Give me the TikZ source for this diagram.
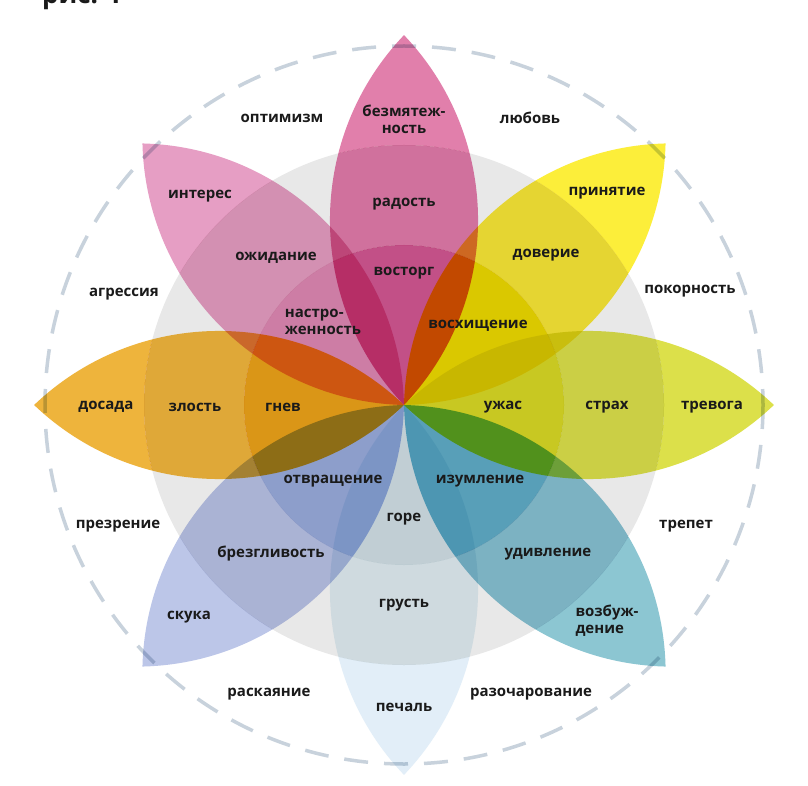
\documentclass[tikz,border=0pt]{standalone}
\usepackage{fontspec}
\setmainfont{Open Sans}
\definecolor{greyA}{HTML}{E8E8E8}
\definecolor{greyB}{HTML}{DADADA}
\definecolor{dashc}{HTML}{C8D2DC}
\definecolor{txt}{HTML}{1A1A1A}
% petal colours: outer / middle / inner
\definecolor{pAo}{HTML}{E17FAB}\definecolor{pAm}{HTML}{E57DAD}\definecolor{pAi}{HTML}{E35E9E}
\definecolor{pBo}{HTML}{FCEE3A}\definecolor{pBm}{HTML}{FCEB38}\definecolor{pBi}{HTML}{FFEA00}
\definecolor{pCo}{HTML}{DCE04A}\definecolor{pCm}{HTML}{E0E44C}\definecolor{pCi}{HTML}{EAEA28}
\definecolor{pDo}{HTML}{8CC6D2}\definecolor{pDm}{HTML}{89C4D6}\definecolor{pDi}{HTML}{68BAD8}
\definecolor{pEo}{HTML}{E2EEF8}\definecolor{pEm}{HTML}{E4F0F6}\definecolor{pEi}{HTML}{E2F2F8}
\definecolor{pFo}{HTML}{BCC6E8}\definecolor{pFm}{HTML}{BBC5EA}\definecolor{pFi}{HTML}{A5B9EE}
\definecolor{pGo}{HTML}{EEB43C}\definecolor{pGm}{HTML}{F6B93E}\definecolor{pGi}{HTML}{FFB01C}
\definecolor{pHo}{HTML}{E69EC4}\definecolor{pHm}{HTML}{E89FC4}\definecolor{pHi}{HTML}{F093C2}
\newcommand\mypetal[4]{%
  \begin{scope}
    \clip[shift={(404,405)}, rotate=#1] (0,0)
      arc[start angle=133.64, end angle=46.36, radius=268]
      arc[start angle=-46.36, end angle=-133.64, radius=268] -- cycle;
    \fill[#2, mult, even odd rule] (C) circle[radius=260] (0,0) rectangle (808,786);
    \fill[#3, mult, even odd rule] (C) circle[radius=260] (C) circle[radius=160];
    \fill[#4, mult] (C) circle[radius=160];
  \end{scope}}
\begin{document}
\begin{tikzpicture}[x=1pt,y=-1pt,
  lbl/.style={font=\fontsize{15}{17}\selectfont\bfseries, text=txt, align=center, inner sep=0pt, yshift=-3pt},
  mult/.style={blend mode=multiply}]
\useasboundingbox (0,0) rectangle (808,786);
\clip (0,0) rectangle (808,786);
\fill[white] (0,0) rectangle (808,786);
\coordinate (C) at (404,405);
\node[anchor=base west, inner sep=0pt, font=\fontsize{26}{30}\selectfont\bfseries, text=txt] (fig) at (42,4) {рис. 1};
\fill[greyA] (C) circle[radius=260];
\fill[greyB] (C) circle[radius=160];
\draw[dashc, line width=3.5pt, dash pattern=on 24pt off 16pt] (C) circle[radius=359];
\mypetal{90}{pAo}{pAm}{pAi}
\mypetal{45}{pBo}{pBm}{pBi}
\mypetal{0}{pCo}{pCm}{pCi}
\mypetal{-45}{pDo}{pDm}{pDi}
\mypetal{-90}{pEo}{pEm}{pEi}
\mypetal{-135}{pFo}{pFm}{pFi}
\mypetal{180}{pGo}{pGm}{pGi}
\mypetal{135}{pHo}{pHm}{pHi}
\node[lbl] (optimizm) at (282,115) {оптимизм};
\node[lbl] (lubov) at (530,115) {любовь};
\node[lbl] (bezm) at (404,116) {безмятеж-\\ность};
\node[lbl] (interes) at (200,193) {интерес};
\node[lbl] (radost) at (404,201) {радость};
\node[lbl] (prin) at (607,190) {принятие};
\node[lbl] (ozhid) at (276,255) {ожидание};
\node[lbl] (vostorg) at (404,270) {восторг};
\node[lbl] (dover) at (546,252) {доверие};
\node[lbl] (agr) at (124,291) {агрессия};
\node[lbl] (pokor) at (690,288) {покорность};
\node[lbl, align=left] (nastr) at (323,319) {настро-\\женность};
\node[lbl] (voskh) at (478,323) {восхищение};
\node[lbl] (dosada) at (106,404) {досада};
\node[lbl] (zlost) at (195,404) {злость};
\node[lbl] (gnev) at (283,404) {гнев};
\node[lbl] (uzhas) at (503,404) {ужас};
\node[lbl] (strakh) at (607,404) {страх};
\node[lbl] (trevoga) at (712,404) {тревога};
\node[lbl] (otvr) at (333,478) {отвращение};
\node[lbl] (izuml) at (480,478) {изумление};
\node[lbl] (gore) at (404,516) {горе};
\node[lbl] (prezr) at (118,523) {презрение};
\node[lbl] (trepet) at (686,523) {трепет};
\node[lbl] (brezg) at (271,551) {брезгливость};
\node[lbl] (udivl) at (548,551) {удивление};
\node[lbl] (grust) at (404,602) {грусть};
\node[lbl] (skuka) at (189,614) {скука};
\node[lbl, align=left] (vozb) at (607,618) {возбуж-\\дение};
\node[lbl] (raskay) at (269,691) {раскаяние};
\node[lbl] (pechal) at (404,704) {печаль};
\node[lbl] (razoch) at (531,691) {разочарование};
\end{tikzpicture}
\end{document}
